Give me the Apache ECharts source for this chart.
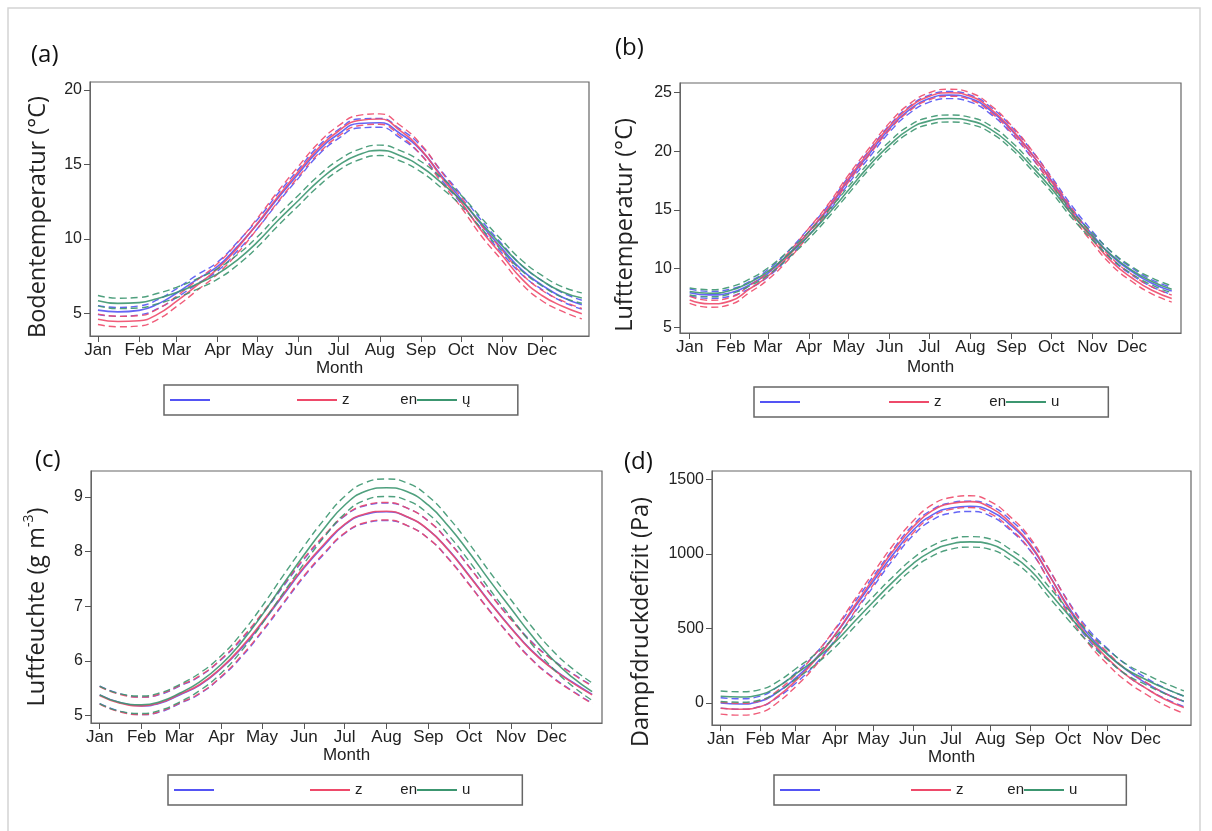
<!DOCTYPE html>
<html>
<head>
<meta charset="utf-8">
<script src="https://cdn.jsdelivr.net/npm/echarts@6/dist/echarts.min.js"></script>
<style>
  html, body { margin: 0; padding: 0; background: #fff; }
  #chart { width: 1212px; height: 831px; }
</style>
</head>
<body>
<div id="chart"></div>
<script>
let days = [1, 16, 32, 46, 60, 75, 91, 106, 121, 136, 152, 167, 182, 197, 213, 228, 244, 259, 274, 289, 305, 320, 335, 350, 365];
let monthTicks = [1, 32, 60, 91, 121, 152, 182, 213, 244, 274, 305, 335];
let monthNames = ["Jan", "Feb", "Mar", "Apr", "May", "Jun", "Jul", "Aug", "Sep", "Oct", "Nov", "Dec"];

// (a) Bodentemperatur
let bodenBlue  = [5.22, 5.1, 5.2, 5.62, 6.35, 7.25, 8.15, 9.5, 11.0, 12.7, 14.4, 15.95, 17.05, 17.75, 17.8, 17.1, 15.95, 14.3, 12.7, 11.0, 9.35, 7.9, 6.9, 6.1, 5.58];
let bodenRed   = [4.6, 4.45, 4.5, 4.95, 5.8, 6.85, 8.0, 9.4, 11.05, 12.8, 14.55, 16.1, 17.25, 17.95, 18.05, 17.3, 16.0, 14.2, 12.5, 10.6, 8.9, 7.3, 6.2, 5.5, 4.98];
let bodenGreen = [5.85, 5.67, 5.72, 6.0, 6.4, 6.95, 7.65, 8.6, 9.8, 11.2, 12.6, 13.9, 14.95, 15.65, 15.95, 15.6, 14.85, 13.8, 12.6, 11.1, 9.55, 8.2, 7.2, 6.45, 6.03];
let bodenCI = [0.3, 0.35, 0.35];
let bodenTicks = [5, 10, 15, 20];

// (b) Lufttemperatur
let luftBlue  = [7.95, 7.76, 7.95, 8.6, 9.6, 11.15, 13.15, 15.15, 17.55, 19.7, 21.95, 23.55, 24.5, 24.8, 24.5, 23.5, 21.8, 19.8, 17.55, 15.15, 12.9, 11.05, 9.75, 8.75, 8.1];
let luftRed   = [7.33, 7.0, 7.25, 8.25, 9.35, 11.0, 13.15, 15.25, 17.7, 19.9, 22.15, 23.75, 24.7, 25.0, 24.7, 23.65, 21.9, 19.85, 17.45, 14.95, 12.5, 10.55, 9.2, 8.15, 7.45];
let luftGreen = [8.05, 7.9, 8.15, 8.8, 9.75, 11.15, 12.85, 14.7, 16.7, 18.7, 20.55, 21.9, 22.6, 22.8, 22.6, 21.9, 20.5, 18.75, 16.85, 14.7, 12.75, 11.1, 9.85, 8.9, 8.25];
let luftCI = [0.3, 0.3, 0.3];
let luftTicks = [5, 10, 15, 20, 25];

// (c) Luftfeuchte
let feuchteBlue  = [5.38, 5.24, 5.18, 5.23, 5.38, 5.56, 5.87, 6.24, 6.69, 7.18, 7.7, 8.12, 8.49, 8.68, 8.73, 8.64, 8.4, 8.03, 7.57, 7.09, 6.61, 6.2, 5.88, 5.62, 5.39];
let feuchteRed   = [5.37, 5.23, 5.18, 5.24, 5.39, 5.57, 5.88, 6.26, 6.71, 7.2, 7.72, 8.14, 8.5, 8.69, 8.74, 8.64, 8.4, 8.02, 7.56, 7.08, 6.6, 6.19, 5.87, 5.61, 5.38];
let feuchteGreen = [5.38, 5.24, 5.2, 5.26, 5.41, 5.62, 5.94, 6.35, 6.84, 7.38, 7.94, 8.43, 8.85, 9.1, 9.17, 9.1, 8.85, 8.46, 7.99, 7.48, 6.96, 6.48, 6.05, 5.71, 5.44];
let feuchteCI = [0.16, 0.16, 0.16];
let feuchteTicks = [5, 6, 7, 8, 9];

// (d) Dampfdruckdefizit
let vpdBlue  = [0, -7, 11, 74, 168, 291, 459, 638, 817, 992, 1158, 1262, 1310, 1321, 1290, 1200, 1060, 860, 650, 470, 330, 220, 135, 65, 10];
let vpdRed   = [-35, -42, -25, 45, 150, 285, 460, 650, 835, 1015, 1180, 1290, 1340, 1352, 1312, 1215, 1070, 860, 640, 450, 300, 185, 100, 25, -30];
let vpdGreen = [45, 40, 55, 110, 195, 290, 410, 545, 680, 810, 935, 1020, 1068, 1082, 1066, 1000, 895, 745, 595, 450, 325, 225, 158, 98, 47];
let vpdCI = [35, 40, 35];
let vpdTicks = [0, 500, 1000, 1500];

let colors = ["#5454f4", "#ee4a6a", "#3c9670"];
let groupNames = ["blue", "red", "green"];

let chart = echarts.init(document.getElementById('chart'));

// mean line + dashed upper/lower band for each group
function panelSeries(idx, groups, ci) {
  let out = [];
  groups.forEach(function (vals, g) {
    let base = {
      type: 'line', xAxisIndex: idx, yAxisIndex: idx,
      color: colors[g], symbol: 'none', smooth: 0.5, silent: true,
      animation: false
    };
    out.push(Object.assign({}, base, {
      name: 'hi' + g,
      lineStyle: { width: 1.4, type: [7, 4], color: colors[g], opacity: 0.9 },
      data: days.map(function (d, i) { return [d, vals[i] + ci[g]]; })
    }));
    out.push(Object.assign({}, base, {
      name: 'lo' + g,
      lineStyle: { width: 1.4, type: [7, 4], color: colors[g], opacity: 0.9 },
      data: days.map(function (d, i) { return [d, vals[i] - ci[g]]; })
    }));
    out.push(Object.assign({}, base, {
      name: groupNames[g],
      lineStyle: { width: 1.6, color: colors[g], opacity: 0.9 },
      data: days.map(function (d, i) { return [d, vals[i]]; })
    }));
  });
  return out;
}

function xAx(idx, min, max, gap) {
  return {
    type: 'value', gridIndex: idx, min: min, max: max,
    name: 'Month', nameLocation: 'middle', nameGap: gap,
    nameTextStyle: { fontFamily: 'Liberation Sans', fontSize: 17, color: '#222' },
    axisLine: { show: true, onZero: false, lineStyle: { color: '#666' } },
    axisTick: { show: true, length: 6, customValues: monthTicks, lineStyle: { color: '#555' } },
    axisLabel: {
      customValues: monthTicks, margin: 6,
      fontFamily: 'Liberation Sans', fontSize: 17, color: '#222',
      formatter: function (v) { return monthNames[monthTicks.indexOf(v)]; }
    },
    splitLine: { show: false }
  };
}

function yAx(idx, min, max, ticks, name, gap, pad, rich) {
  return {
    type: 'value', gridIndex: idx, min: min, max: max,
    name: name, nameLocation: 'middle', nameGap: gap,
    nameTextStyle: { fontFamily: 'Open Sans', fontSize: 23.5, color: '#222', padding: pad, rich: rich },
    axisLine: { show: true, onZero: false, lineStyle: { color: '#666' } },
    axisTick: { show: true, length: 6, customValues: ticks, lineStyle: { color: '#555' } },
    axisLabel: {
      customValues: ticks, margin: 8, fontFamily: 'Liberation Sans', fontSize: 16, color: '#222',
      formatter: function (v) { return String(v); }
    },
    splitLine: { show: false }
  };
}

// legend texts are mostly blanked out in the source; keep the visible fragments
function legendBox(left, top, w1, sp, tail, last) {
  return {
    left: left, top: top, orient: 'horizontal',
    data: groupNames, selectedMode: false,
    icon: 'rect', itemWidth: 40, itemHeight: 2, itemGap: 0,
    padding: [6, 0, 6, 6],
    borderColor: '#666', borderWidth: 1.5,
    textStyle: {
      fontFamily: 'Liberation Sans', fontSize: 15, color: '#222', lineHeight: 18,
      rich: {
        t: { fontFamily: 'Liberation Sans', fontSize: 15, color: '#222' },
        w1: { width: w1 },
        sp: { width: sp },
        tl: { width: tail }
      }
    },
    formatter: function (name) {
      if (name === 'blue') return '{w1|\u00a0}';
      if (name === 'red') return '{t|z}{sp|\u00a0}{t|en}';
      return '{t|' + last + '}{tl|\u00a0}';
    }
  };
}

let grids = [
  { left: 90, top: 82, width: 499, height: 254 },
  { left: 680, top: 83, width: 501, height: 250 },
  { left: 91, top: 471, width: 511, height: 252 },
  { left: 712, top: 471, width: 479, height: 254 }
];
grids.forEach(function (g) { g.show = true; g.borderColor = '#666'; g.borderWidth = 1.2; g.backgroundColor = '#fff'; });

let labelFont = '24px "Open Sans"';

chart.setOption({
  backgroundColor: '#ffffff',
  animation: false,
  grid: grids,
  xAxis: [
    xAx(0, -5.0, 370.4, 23),
    xAx(1, -6.3, 372, 26),
    xAx(2, -5.4, 372.3, 24),
    xAx(3, -5.8, 370.6, 24)
  ],
  yAxis: [
    yAx(0, 3.48, 20.54, bodenTicks, 'Bodentemperatur (°C)', 40, [0, 16, 0, 0]),
    yAx(1, 4.51, 25.83, luftTicks, 'Lufttemperatur (°C)', 43, [0, 34, 0, 0]),
    yAx(2, 4.866, 9.476, feuchteTicks, '{n|Luftfeuchte (g m}{s|-3}{n|)}', 39, [0, 20, 0, 0],
      { n: { fontFamily: 'Open Sans', fontSize: 23.5, color: '#222', lineHeight: 30 },
        s: { fontFamily: 'Open Sans', fontSize: 14, color: '#222', verticalAlign: 'top', lineHeight: 30, padding: [0, 0, 10, 0] } }),
    yAx(3, -148, 1558, vpdTicks, 'Dampfdruckdefizit (Pa)', 59, [0, 48, 0, 0])
  ],
  legend: [
    legendBox(164, 385, 82, 50.8, 47.5, 'ų'),
    legendBox(754, 387, 84, 47.8, 49, 'u'),
    legendBox(168, 775, 91, 37.8, 52, 'u'),
    legendBox(774, 775, 86, 43.8, 49, 'u')
  ],
  graphic: [
    { type: 'rect', shape: { x: 8, y: 8, width: 1192, height: 830 }, style: { fill: 'none', stroke: '#d4d4d4', lineWidth: 1.5 }, silent: true },
    { type: 'text', left: 31, top: 43, style: { text: '(a)', font: labelFont, fill: '#111' } },
    { type: 'text', left: 615, top: 36, style: { text: '(b)', font: labelFont, fill: '#111' } },
    { type: 'text', left: 35, top: 448, style: { text: '(c)', font: labelFont, fill: '#111' } },
    { type: 'text', left: 624, top: 450, style: { text: '(d)', font: labelFont, fill: '#111' } }
  ],
  series: [].concat(
    panelSeries(0, [bodenBlue, bodenRed, bodenGreen], bodenCI),
    panelSeries(1, [luftBlue, luftRed, luftGreen], luftCI),
    panelSeries(2, [feuchteBlue, feuchteRed, feuchteGreen], feuchteCI),
    panelSeries(3, [vpdBlue, vpdRed, vpdGreen], vpdCI)
  )
});
</script>
</body>
</html>
